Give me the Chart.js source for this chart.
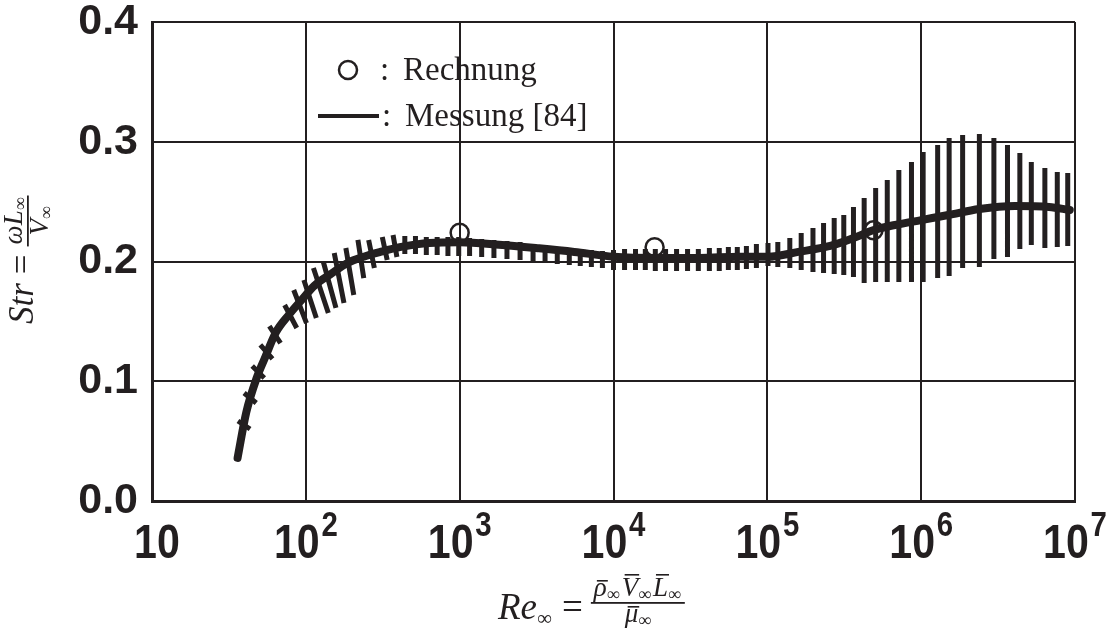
<!DOCTYPE html>
<html>
<head>
<meta charset="utf-8">
<script src="https://cdn.jsdelivr.net/npm/chart.js@4/dist/chart.umd.min.js"></script>
<style>
  html, body { margin: 0; padding: 0; background: #fff; }
  #wrap { width: 1114px; height: 630px; position: relative; }
</style>
</head>
<body>
<div id="wrap"><canvas id="strChart"></canvas></div>
<script>
// axis ticks
const xTickValues = [10, 1e2, 1e3, 1e4, 1e5, 1e6, 1e7];
const xTickExponents = ['', '2', '3', '4', '5', '6', '7'];
const yTickValues = [0, 0.1, 0.2, 0.3, 0.4];

// Messung [84] - mean curve
const curveRe = [36, 41, 48, 54, 64, 77, 94, 114, 147, 188, 238, 305, 408, 635, 1000, 1800, 3280, 5560,
  1e4, 1.99e4, 3.61e4, 6.58e4, 1.01e5, 1.59e5, 2.56e5, 3.63e5, 4.92e5, 6.76e5, 1e6, 1.5e6, 2.39e6, 4.06e6, 6.78e6, 9.25e6];
const curveStr = [0.036, 0.074, 0.103, 0.119, 0.141, 0.155, 0.168, 0.180, 0.190, 0.199, 0.204, 0.208, 0.212, 0.2155, 0.216, 0.214, 0.211, 0.208,
  0.204, 0.203, 0.203, 0.204, 0.204, 0.208, 0.213, 0.2196, 0.2263, 0.2305, 0.2346, 0.2388, 0.2438, 0.2463, 0.2455, 0.243];

// Messung [84] - scatter hatches (upper end, lower end)
const hatchRe = [36.2, 39.7, 44.8, 50.6, 57.9, 72.8, 83.4, 97.1, 112, 130, 153, 182, 218, 256, 314, 369,
  440, 516, 607, 714, 839, 986, 1160, 1390, 1670, 2030, 2470, 3000, 3590, 4310, 5160, 6080, 7180, 8470,
  1e4, 1.18e4, 1.39e4, 1.61e4, 1.87e4, 2.18e4, 2.57e4, 3.03e4, 3.56e4, 4.2e4, 4.87e4, 5.58e4, 6.38e4, 7.31e4, 8.49e4,
  1.01e5, 1.17e5, 1.40e5, 1.66e5, 1.98e5, 2.32e5, 2.72e5, 3.14e5, 3.63e5, 4.26e5, 5.06e5, 6.02e5, 7.16e5, 8.65e5,
  1.03e6, 1.28e6, 1.52e6, 1.86e6, 2.39e6, 2.97e6, 3.64e6, 4.38e6, 5.20e6, 6.37e6, 7.67e6, 8.97e6];
// lower end of the slanted hatches at low Re (the others are vertical)
const hatchReLow = [43.4, 47.6, 53.7, 60.7, 68.5, 87.3, 101, 117, 140, 157, 177, 205, 238, 279, 338, 391];
const hatchTop = [0.0668, 0.0902, 0.1127, 0.1303, 0.1461, 0.1637, 0.1762, 0.1846, 0.1946, 0.1996, 0.2071, 0.2113, 0.2180, 0.2180, 0.2205, 0.2221,
  0.2213, 0.2213, 0.2205, 0.2205, 0.2205, 0.2205, 0.2196, 0.2188, 0.2180, 0.2171, 0.2163, 0.2146, 0.2138, 0.2121, 0.2113, 0.2104, 0.2096, 0.2088,
  0.2096, 0.2104, 0.2104, 0.2104, 0.2104, 0.2104, 0.2104, 0.2104, 0.2104, 0.2113, 0.2113, 0.2121, 0.2121, 0.2129, 0.2146,
  0.2154, 0.2163, 0.2196, 0.2238, 0.2280, 0.2321, 0.2363, 0.2388, 0.2455, 0.2530, 0.2614, 0.2681, 0.2764, 0.2831,
  0.2914, 0.2973, 0.3031, 0.3056, 0.3065, 0.3031, 0.2973, 0.2906, 0.2831, 0.2781, 0.2747, 0.2739];
const hatchBottom = [0.0601, 0.0818, 0.1027, 0.1186, 0.1319, 0.1445, 0.1486, 0.1528, 0.1570, 0.1612, 0.1653, 0.1720, 0.1862, 0.1946, 0.2013, 0.2038,
  0.2063, 0.2063, 0.2054, 0.2054, 0.2046, 0.2046, 0.2046, 0.2038, 0.2029, 0.2021, 0.2013, 0.1996, 0.1987, 0.1979, 0.1971, 0.1962, 0.1954, 0.1946,
  0.1929, 0.1929, 0.1929, 0.1929, 0.1921, 0.1921, 0.1921, 0.1921, 0.1921, 0.1921, 0.1921, 0.1929, 0.1929, 0.1937, 0.1946,
  0.1962, 0.1954, 0.1946, 0.1929, 0.1912, 0.1904, 0.1896, 0.1887, 0.1871, 0.1820, 0.1829, 0.1829, 0.1829, 0.1829,
  0.1829, 0.1862, 0.1879, 0.1946, 0.1954, 0.2021, 0.2038, 0.2104, 0.2138, 0.2113, 0.2121, 0.2129];

// Rechnung
const calcRe = [1000, 1.85e4, 4.9e5];
const calcStr = [0.224, 0.212, 0.226];

const ink = '#231f20';

const curvePts = curveRe.map((re, i) => ({ x: re, y: curveStr[i] }));
const hatchPts = [];
hatchRe.forEach((re, i) => {
  hatchPts.push({ x: re, y: hatchTop[i] });
  hatchPts.push({ x: i < hatchReLow.length ? hatchReLow[i] : re, y: hatchBottom[i] });
  hatchPts.push({ x: re, y: null });
});
const calcPts = calcRe.map((re, i) => ({ x: re, y: calcStr[i] }));

// legend drawn inside the plot area
const innerLegend = {
  id: 'innerLegend',
  afterDraw(chart) {
    const ctx = chart.ctx;
    ctx.save();
    ctx.fillStyle = ink;
    ctx.strokeStyle = ink;
    ctx.textBaseline = 'alphabetic';
    ctx.font = '33px "Liberation Serif", serif';
    ctx.lineWidth = 2.5;
    ctx.beginPath();
    ctx.arc(348, 70, 9, 0, Math.PI * 2);
    ctx.stroke();
    ctx.fillText(':', 380, 80);
    ctx.fillText(chart.data.datasets[0].label, 403, 80);
    ctx.lineWidth = 4;
    ctx.beginPath();
    ctx.moveTo(318, 116);
    ctx.lineTo(379, 116);
    ctx.stroke();
    ctx.fillText(':', 382, 126);
    ctx.fillText(chart.data.datasets[1].label, 405, 126);
    ctx.restore();
  }
};

// x tick labels 10, 10^2 ... with raised exponents
const decadeLabels = {
  id: 'decadeLabels',
  afterDraw(chart) {
    const ctx = chart.ctx;
    const xs = chart.scales.x;
    ctx.save();
    ctx.fillStyle = ink;
    ctx.textBaseline = 'alphabetic';
    const baseFont = 'bold 49px "Liberation Sans", Arial, sans-serif';
    const expFont = 'bold 35px "Liberation Sans", Arial, sans-serif';
    const squeeze = 0.84;
    xTickValues.forEach((v, i) => {
      const px = xs.getPixelForValue(v);
      ctx.font = baseFont;
      const bw = ctx.measureText('10').width;
      ctx.font = expFont;
      const ew = xTickExponents[i] ? ctx.measureText(xTickExponents[i]).width + 2 : 0;
      const total = (bw + ew) * squeeze;
      ctx.save();
      ctx.translate(px - total / 2 + (i === 0 ? 5 : 0), 558);
      ctx.scale(squeeze, 1);
      ctx.font = baseFont;
      ctx.fillText('10', 0, 0);
      if (xTickExponents[i]) {
        ctx.font = expFont;
        ctx.fillText(xTickExponents[i], bw + 2, -22);
      }
      ctx.restore();
    });
    ctx.restore();
  }
};

function macron(ctx, x, w, y) {
  ctx.fillRect(x, y, w, 1.6);
}

// axis titles with fractions
const mathTitles = {
  id: 'mathTitles',
  afterDraw(chart) {
    const ctx = chart.ctx;
    ctx.save();
    ctx.fillStyle = ink;
    ctx.textBaseline = 'alphabetic';
    const big = 37, small = 27, sub = 18;
    const fIt = s => 'italic ' + s + 'px "Liberation Serif", serif';
    const fUp = s => s + 'px "Liberation Serif", serif';

    // x title: Re_inf = (rho V L)/mu
    let x = 498, base = 619;
    ctx.font = fIt(big); ctx.fillText('Re', x, base); x += ctx.measureText('Re').width;
    ctx.font = fUp(sub + 3); ctx.fillText('∞', x, base + 6); x += ctx.measureText('∞').width + 10;
    ctx.font = fUp(big); ctx.fillText('=', x, base); x += ctx.measureText('=').width + 8;
    const fracX = x;
    let nx = x + 3;
    const nBase = 596;
    ['ρ', 'V', 'L'].forEach(p => {
      ctx.font = fIt(small);
      const w = ctx.measureText(p).width;
      ctx.fillText(p, nx, nBase);
      macron(ctx, nx + 3, w - 2, nBase - (p === 'ρ' ? 16 : 22));
      nx += w;
      ctx.font = fUp(sub);
      ctx.fillText('∞', nx, nBase + 4);
      nx += ctx.measureText('∞').width + 2;
    });
    const fracW = nx - fracX + 2;
    ctx.fillRect(fracX, 602, fracW, 1.8);
    ctx.font = fIt(small);
    const mw = ctx.measureText('μ').width;
    ctx.font = fUp(sub);
    const iw = ctx.measureText('∞').width;
    const dx = fracX + (fracW - mw - iw) / 2;
    ctx.font = fIt(small);
    ctx.fillText('μ', dx, 622);
    macron(ctx, dx + 3, mw - 2, 606);
    ctx.font = fUp(sub);
    ctx.fillText('∞', dx + mw, 626);

    // y title: Str = (omega L)/V, rotated
    ctx.translate(33, 324);
    ctx.rotate(-Math.PI / 2);
    let y = 0;
    ctx.font = fIt(big - 2); ctx.fillText('Str', y, 0); y += ctx.measureText('Str').width + 9;
    ctx.font = fUp(big - 2); ctx.fillText('=', y, 0); y += ctx.measureText('=').width + 8;
    const fy = y;
    let ny = y + 2;
    ctx.font = fIt(small); ctx.fillText('ωL', ny, -11); ny += ctx.measureText('ωL').width;
    ctx.font = fUp(sub); ctx.fillText('∞', ny, -7); ny += ctx.measureText('∞').width + 2;
    const fw = ny - fy;
    ctx.fillRect(fy, -6, fw, 1.8);
    ctx.font = fIt(small);
    const vw = ctx.measureText('V').width;
    const vy = fy + (fw - vw - iw) / 2;
    ctx.fillText('V', vy, 15);
    ctx.font = fUp(sub); ctx.fillText('∞', vy + vw, 19);
    ctx.restore();
  }
};

const ctx = document.getElementById('strChart').getContext('2d');
const strChart = new Chart(ctx, {
  type: 'line',
  data: {
    datasets: [
      {
        label: 'Rechnung',
        data: calcPts,
        showLine: false,
        pointStyle: 'circle',
        pointRadius: 9,
        pointBorderWidth: 2.5,
        pointBorderColor: ink,
        pointBackgroundColor: 'rgba(0,0,0,0)'
      },
      {
        label: 'Messung [84]',
        data: curvePts,
        borderColor: ink,
        borderWidth: 8,
        pointRadius: 0,
        cubicInterpolationMode: 'monotone',
        borderCapStyle: 'round'
      },
      {
        label: 'Messung [84] Streuung',
        data: hatchPts,
        borderColor: ink,
        borderWidth: 5,
        pointRadius: 0,
        spanGaps: false,
        tension: 0
      }
    ]
  },
  options: {
    responsive: true,
    maintainAspectRatio: false,
    animation: false,
    layout: { padding: { top: 22, right: 39, left: 0, bottom: 0 } },
    scales: {
      x: {
        type: 'logarithmic',
        min: 10,
        max: 1e7,
        afterBuildTicks: scale => { scale.ticks = xTickValues.map(v => ({ value: v })); },
        afterFit: scale => {
          scale.height = 129;
          scale.paddingLeft = 0; scale.paddingRight = 0;
          scale.paddingTop = 0; scale.paddingBottom = 0;
        },
        ticks: { display: false },
        grid: { color: ink, lineWidth: 2, drawTicks: false },
        border: { display: true, color: ink, width: 3 }
      },
      y: {
        min: 0,
        max: 0.4,
        afterBuildTicks: scale => { scale.ticks = yTickValues.map(v => ({ value: v })); },
        afterFit: scale => {
          scale.width = 152;
          scale.paddingLeft = 0; scale.paddingRight = 0;
          scale.paddingTop = 0; scale.paddingBottom = 0;
        },
        ticks: {
          padding: 14,
          color: ink,
          font: { family: '"Liberation Sans", Arial, sans-serif', size: 43, weight: 'bold' },
          callback: v => v.toFixed(1)
        },
        grid: { color: ink, lineWidth: 2, drawTicks: false },
        border: { display: true, color: ink, width: 3 }
      }
    },
    plugins: {
      legend: { display: false },
      tooltip: { enabled: false }
    }
  },
  plugins: [innerLegend, decadeLabels, mathTitles]
});
</script>
</body>
</html>
